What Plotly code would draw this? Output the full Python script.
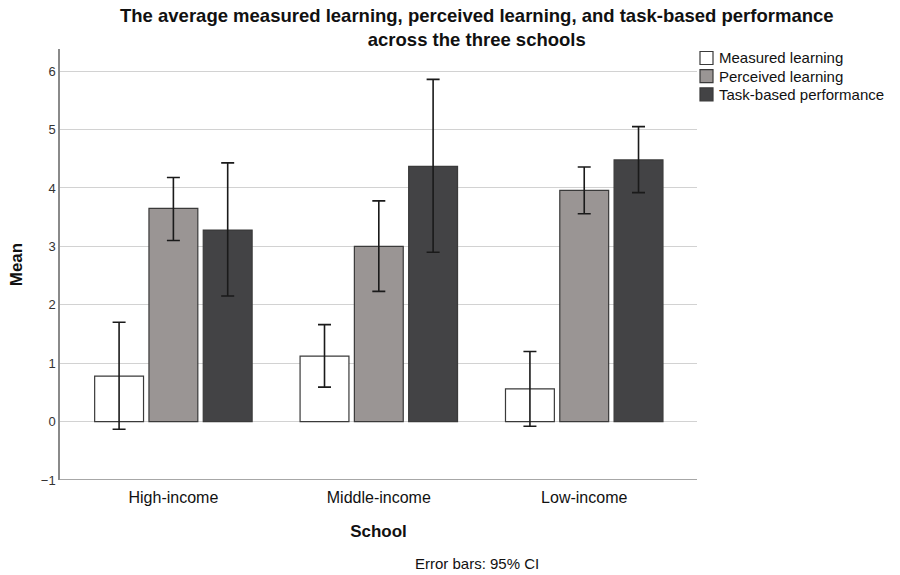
import plotly.graph_objects as go

schools = ["High-income", "Middle-income", "Low-income"]
series = ["Measured learning", "Perceived learning", "Task-based performance"]
means = {
    "Measured learning": [0.78, 1.12, 0.56],
    "Perceived learning": [3.65, 3.00, 3.96],
    "Task-based performance": [3.28, 4.37, 4.48],
}
ci_upper = {
    "Measured learning": [1.70, 1.66, 1.20],
    "Perceived learning": [4.18, 3.78, 4.36],
    "Task-based performance": [4.43, 5.86, 5.05],
}
ci_lower = {
    "Measured learning": [-0.13, 0.59, -0.08],
    "Perceived learning": [3.10, 2.23, 3.56],
    "Task-based performance": [2.15, 2.90, 3.92],
}
colors = {
    "Measured learning": "#ffffff",
    "Perceived learning": "#9a9594",
    "Task-based performance": "#434345",
}

FONT = "Liberation Sans, Arial, sans-serif"
W, H = 900, 575
L, R, T, B = 60, 203, 49, 95
PW, PH = W - L - R, H - T - B


def px(x):
    return (x - L) / PW


def py(y):
    return (H - B - y) / PH


fig = go.Figure()
for s in series:
    m = means[s]
    up = [u - v for u, v in zip(ci_upper[s], m)]
    lo = [v - l for v, l in zip(m, ci_lower[s])]
    fig.add_trace(go.Bar(
        name=s, x=schools, y=m, showlegend=False,
        marker=dict(color=colors[s], line=dict(color="#3a3a3a", width=1.2)),
        error_y=dict(type="data", symmetric=False, array=up, arrayminus=lo,
                     color="#1a1a1a", thickness=1.6, width=6.5),
    ))

fig.update_layout(
    width=W, height=H,
    margin=dict(l=L, r=R, t=T, b=B, autoexpand=False),
    paper_bgcolor="white", plot_bgcolor="white",
    barmode="group", bargap=0.207, bargroupgap=0.1,
    font=dict(family=FONT, color="#222222"),
    showlegend=False,
)
fig.update_xaxes(
    type="category", range=[-0.552, 2.549],
    showline=False, showgrid=False, ticks="",
    tickfont=dict(size=16, color="#111111"), ticklabelstandoff=6,
    title=dict(text="<b>School</b>", font=dict(size=17, color="#111111"), standoff=20),
)
fig.update_yaxes(
    range=[-1, 6.38], tickvals=[-1, 0, 1, 2, 3, 4, 5, 6],
    showgrid=True, gridcolor="#d2d2d2", gridwidth=1.2, zeroline=False,
    showline=True, linecolor="#8a8a8a", linewidth=1.5, ticks="",
    tickfont=dict(size=13, color="#333333"),
    title=dict(text="<b>Mean</b>", font=dict(size=17, color="#111111"), standoff=14),
)
# bottom axis line at y = -1
fig.add_shape(type="line", xref="paper", yref="y", x0=0, x1=1, y0=-1, y1=-1,
              line=dict(color="#8a8a8a", width=1.5))

# legend (drawn from the series list)
for i, s in enumerate(series):
    cy = 58 + 18.2 * i
    fig.add_shape(type="rect", xref="paper", yref="paper",
                  x0=px(700), x1=px(713), y0=py(cy - 6.5), y1=py(cy + 6.5),
                  fillcolor=colors[s], line=dict(color="#3a3a3a", width=1.2))
    fig.add_annotation(text=s, xref="paper", yref="paper", x=px(717), y=py(cy),
                       xanchor="left", yanchor="middle", showarrow=False,
                       font=dict(size=15, color="#111111"))

fig.add_annotation(text="<b>The average measured learning, perceived learning, and task-based performance</b><br>"
                        "<b>across the three schools</b>",
                   xref="paper", yref="paper", x=px(477), y=py(27.5),
                   xanchor="center", yanchor="middle", showarrow=False, align="center",
                   font=dict(size=18.5, color="#111111"))
fig.add_annotation(text="Error bars: 95% CI",
                   xref="paper", yref="paper", x=px(477), y=py(563),
                   xanchor="center", yanchor="middle", showarrow=False,
                   font=dict(size=15, color="#111111"))

fig.write_html("out.html")
